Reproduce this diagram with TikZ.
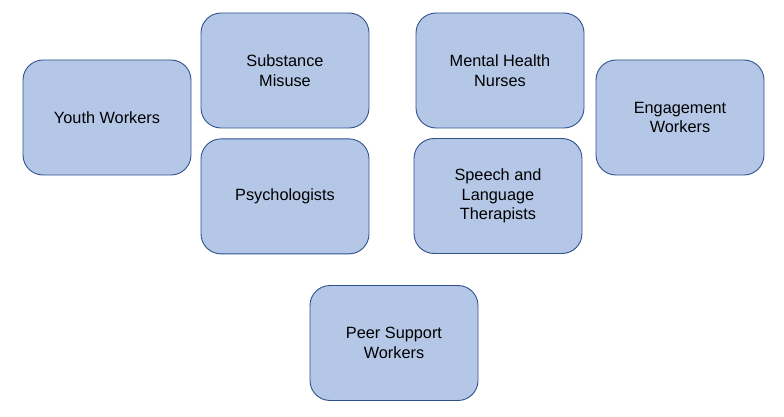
\documentclass[tikz,border=0pt]{standalone}
\usepackage{fontspec}
\setmainfont{Liberation Sans}
\usepackage{tikz}
\usetikzlibrary{positioning}

\definecolor{boxfill}{HTML}{B4C7E7}
\definecolor{boxline}{HTML}{2F528F}

\begin{document}
\begin{tikzpicture}[
  x=1pt,y=-1pt,
  font=\fontsize{16.3}{19.5}\selectfont,
  node distance=10pt and 10pt,
  role/.style={draw=boxline,line width=0.9pt,fill=boxfill,rounded corners=20pt,
               align=center,minimum width=168pt,minimum height=115pt,inner sep=0pt}
]
\useasboundingbox (0,0) rectangle (784,417);
\node[role] (youth) at (107,117.5) {Youth Workers};
\node[role] (subst) at (285,70.5) {Substance\\Misuse};
\node[role,below=of subst] (psych) {Psychologists};
\node[role] (nurse) at (500,70.5) {Mental Health\\Nurses};
\node[role] (speech) at (498,196) {Speech and\\Language\\Therapists};
\node[role] (engage) at (680,117.5) {Engagement\\Workers};
\node[role] (peer) at (394,343) {Peer Support\\Workers};
\end{tikzpicture}
\end{document}
